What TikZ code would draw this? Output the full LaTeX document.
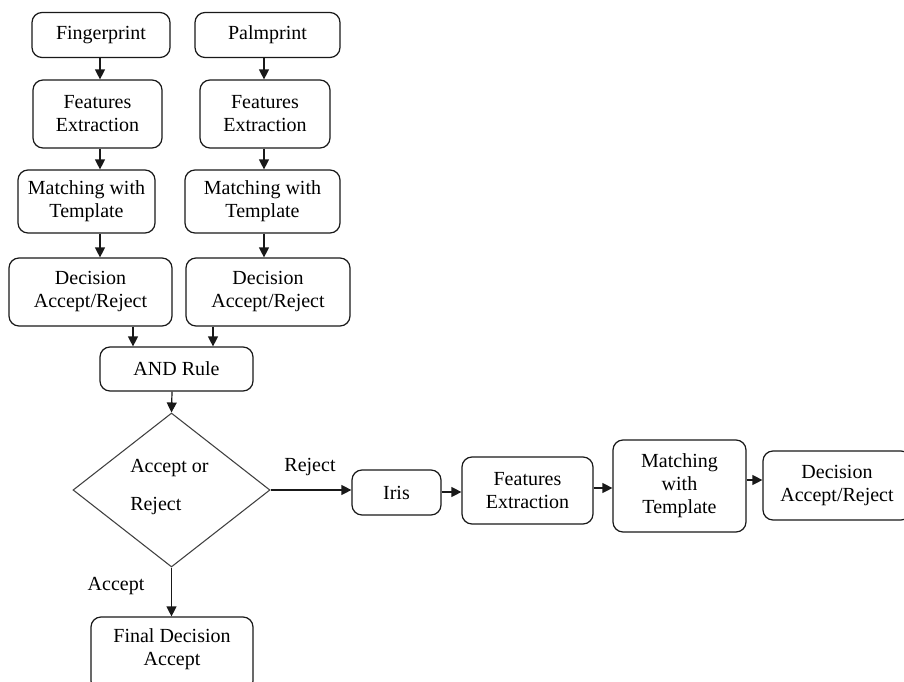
\documentclass[tikz,border=0pt]{standalone}
\usepackage{fontspec}
\setmainfont{Liberation Serif}
\usetikzlibrary{shapes.geometric,arrows.meta}
\tikzset{
  px/.style={x=0.75pt,y=-0.75pt},
  rbox/.style 2 args={draw=black!90,line width=0.9pt,rounded corners=7.5pt,
    minimum width=#1*0.75pt,minimum height=#2*0.75pt,inner sep=0pt,align=center,
    font=\fontsize{15}{17.25}\selectfont},
  txt/.style={font=\fontsize{15}{17.25}\selectfont,inner sep=0pt,align=center},
  arr/.style={draw=black!90,line width=0.9pt,-{Triangle[length=7.5pt,width=7.5pt]}},
  dia/.style={draw=black!75,line width=0.8pt,diamond,inner sep=0pt,
    minimum width=197*0.75pt,minimum height=154*0.75pt}
}
\begin{document}
\begin{tikzpicture}[px]
\clip (0,0) rectangle (904,682);
\fill[white] (0,0) rectangle (904,682);
% left column
\node[rbox={138}{45}] (fp) at (101,35) {Fingerprint};
\node[rbox={129}{68}] (fe1) at (97.5,114) {Features\\Extraction};
\node[rbox={137}{63}] (m1) at (86.5,201.5) {Matching with\\Template};
\node[rbox={163}{68}] (d1) at (90.5,292) {Decision\\Accept/Reject};
% right column
\node[rbox={145}{45}] (pp) at (267.5,35) {Palmprint};
\node[rbox={130}{68}] (fe2) at (265,114) {Features\\Extraction};
\node[rbox={155}{63}] (m2) at (262.5,201.5) {Matching with\\Template};
\node[rbox={164}{68}] (d2) at (268,292) {Decision\\Accept/Reject};
% and rule
\node[rbox={153}{44}] (and) at (176.5,369) {AND Rule};
% diamond
\node[dia] (dm) at (171.5,490) {};
\node[txt,align=left,anchor=west] (dmt) at (130,487) {Accept or\\[11pt]Reject};
% iris chain
\node[rbox={89}{45}] (iris) at (396.5,492.5) {Iris};
\node[rbox={131}{67}] (fe3) at (527.5,490.5) {Features\\Extraction};
\node[rbox={133}{92}] (m3) at (679.5,486) {Matching\\with\\Template};
\node[rbox={148}{69}] (d3) at (837,485.5) {Decision\\Accept/Reject};
% final
\node[rbox={162}{74}] (fin) at (172,654) {};
\node[txt] (fint) at (172,649) {Final Decision\\Accept};
% labels
\node[txt] (lrej) at (310,467) {Reject};
\node[txt] (lacc) at (116,586) {Accept};
% column coordinates
\coordinate (cl) at (100,0);
\coordinate (cr) at (264,0);
\coordinate (ca) at (133,0);
\coordinate (cb) at (213,0);
\coordinate (cd) at (172,0);
% arrows
\draw[arr] (fp.south -| cl) -- (fe1.north -| cl);
\draw[arr] (fe1.south -| cl) -- (m1.north -| cl);
\draw[arr] (m1.south -| cl) -- (d1.north -| cl);
\draw[arr] (pp.south -| cr) -- (fe2.north -| cr);
\draw[arr] (fe2.south -| cr) -- (m2.north -| cr);
\draw[arr] (m2.south -| cr) -- (d2.north -| cr);
\draw[arr] (d1.south -| ca) -- (and.north -| ca);
\draw[arr] (d2.south -| cb) -- (and.north -| cb);
\draw[arr] (and.south -| cd) -- (dm.north);
\draw[arr] (dm.east) -- (iris.west |- dm.east);
\coordinate (r1) at (0,492);
\coordinate (r2) at (0,488);
\coordinate (r3) at (0,480);
\draw[arr] (iris.east |- r1) -- (fe3.west |- r1);
\draw[arr] (fe3.east |- r2) -- (m3.west |- r2);
\draw[arr] (m3.east |- r3) -- (d3.west |- r3);
\draw[arr] (dm.south) -- (fin.north -| dm.south);
\end{tikzpicture}
\end{document}
